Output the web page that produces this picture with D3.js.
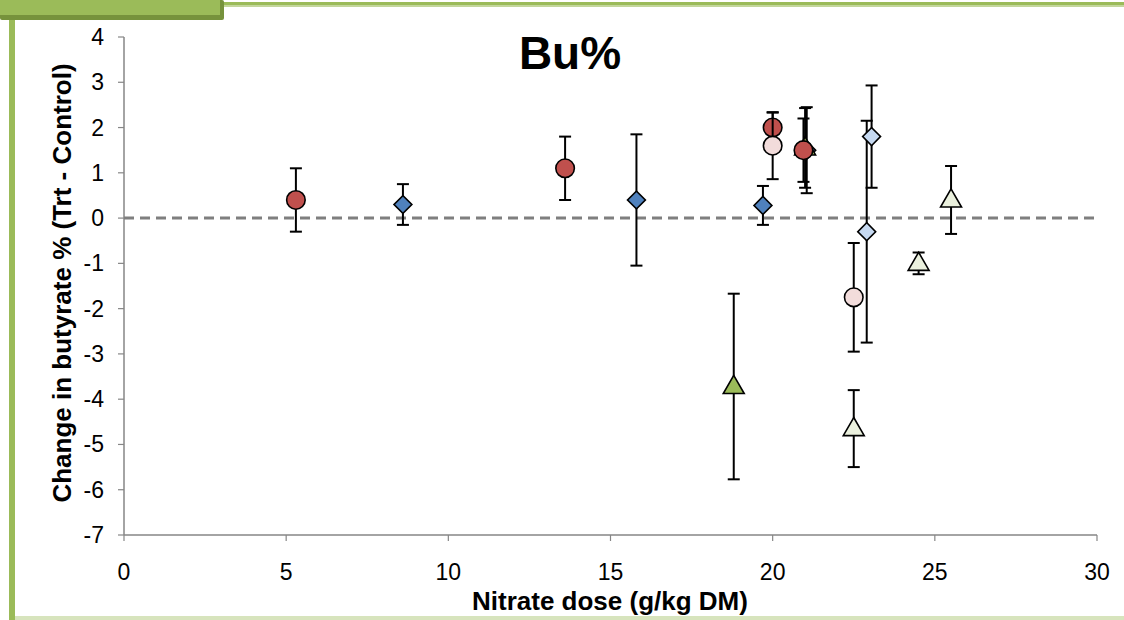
<!DOCTYPE html>
<html><head><meta charset="utf-8">
<script src="https://cdn.jsdelivr.net/npm/d3@7"></script>
<style>body{margin:0;background:#fff;}svg{display:block;font-family:Arial,"Liberation Sans",sans-serif;}</style>
</head><body>
<svg id="c" width="1124" height="620"></svg>
<script>
const chartTitle = "Bu%";
const xLabel = "Nitrate dose (g/kg DM)";
const yLabel = "Change in butyrate % (Trt - Control)";
const xTicks = [0, 5, 10, 15, 20, 25, 30];
const yTicks = [4, 3, 2, 1, 0, -1, -2, -3, -4, -5, -6, -7];

const darkDiamondX = [8.6, 15.8, 19.7, 21.05];
const darkDiamondY = [0.3, 0.4, 0.28, 1.5];
const darkDiamondErr = [0.45, 1.45, 0.43, 0.95];

const lightDiamondX = [23.05, 22.9];
const lightDiamondY = [1.8, -0.3];
const lightDiamondErr = [1.13, 2.45];

const greenTriX = [18.8, 21.0];
const greenTriY = [-3.72, 1.55];
const greenTriErr = [2.05, 0.88];

const lightTriX = [22.5, 24.5, 25.5];
const lightTriY = [-4.65, -1.0, 0.4];
const lightTriErr = [0.85, 0.24, 0.75];

const redX = [5.3, 13.6, 20.0, 20.95];
const redY = [0.4, 1.1, 2.0, 1.5];
const redErr = [0.7, 0.7, 0.33, 0.7];

const pinkX = [20.0, 22.5];
const pinkY = [1.6, -1.75];
const pinkErr = [0.74, 1.2];

const svg = d3.select("#c");
const W = 1124, H = 620;
const x = d3.scaleLinear().domain([0, 30]).range([124, 1097]);
const y = d3.scaleLinear().domain([-7, 4]).range([535, 37]);

// decoration
const g0 = svg.append("g");
g0.append("rect").attr("x", 0).attr("y", 2).attr("width", W).attr("height", 5).attr("fill", "#9BBB59");
g0.append("rect").attr("x", 0).attr("y", 5).attr("width", W).attr("height", 2).attr("fill", "#C3D69B");
g0.append("rect").attr("x", 0).attr("y", 0).attr("width", 224).attr("height", 20).attr("fill", "#76923C").attr("rx", 2);
g0.append("rect").attr("x", 0).attr("y", 0).attr("width", 220).attr("height", 15).attr("fill", "#9BBB59");
g0.append("rect").attr("x", 9).attr("y", 20).attr("width", 6).attr("height", H - 20).attr("fill", "#9BBB59");
g0.append("rect").attr("x", 15).attr("y", 616).attr("width", W - 15).attr("height", 4).attr("fill", "#D7E4BD");

// axes
const axisColor = "#868686";
const ax = svg.append("g");
ax.append("line").attr("x1", x(0)).attr("x2", x(30)).attr("y1", y(-7)).attr("y2", y(-7)).attr("stroke", axisColor).attr("stroke-width", 1.5);
ax.append("line").attr("x1", x(0)).attr("x2", x(0)).attr("y1", y(-7)).attr("y2", y(4)).attr("stroke", axisColor).attr("stroke-width", 1.5);
xTicks.forEach(t => {
  ax.append("line").attr("x1", x(t)).attr("x2", x(t)).attr("y1", y(-7)).attr("y2", y(-7) + 6).attr("stroke", axisColor).attr("stroke-width", 1.2);
  ax.append("text").attr("x", x(t)).attr("y", y(-7) + 45).attr("text-anchor", "middle").attr("font-size", 23).attr("fill", "#000").text(t);
});
yTicks.forEach(t => {
  ax.append("line").attr("x1", x(0) - 6).attr("x2", x(0)).attr("y1", y(t)).attr("y2", y(t)).attr("stroke", axisColor).attr("stroke-width", 1.2);
  ax.append("text").attr("x", 104).attr("y", y(t) + 8).attr("text-anchor", "end").attr("font-size", 23).attr("fill", "#000").text(t);
});

// zero line
svg.append("line").attr("x1", x(0)).attr("x2", x(30)).attr("y1", y(0)).attr("y2", y(0))
  .attr("stroke", "#7F7F7F").attr("stroke-width", 3).attr("stroke-dasharray", "10,6");

// titles
svg.append("text").attr("x", 570).attr("y", 69).attr("text-anchor", "middle").attr("font-size", 46).attr("font-weight", "bold").text(chartTitle);
svg.append("text").attr("x", 610).attr("y", 610).attr("text-anchor", "middle").attr("font-size", 26).attr("font-weight", "bold").text(xLabel);
svg.append("text").attr("transform", "translate(71,283) rotate(-90)").attr("text-anchor", "middle").attr("font-size", 26).attr("font-weight", "bold").text(yLabel);

function series(xs, ys, errs, shape, fill) {
  const data = xs.map((v, i) => ({x: v, y: ys[i], e: errs[i]}));
  const g = svg.append("g");
  const eb = g.selectAll("g.eb").data(data).enter().append("g").attr("stroke", "#000").attr("stroke-width", 2);
  eb.append("line").attr("x1", d => x(d.x)).attr("x2", d => x(d.x)).attr("y1", d => y(d.y + d.e)).attr("y2", d => y(d.y - d.e));
  eb.append("line").attr("x1", d => x(d.x) - 6).attr("x2", d => x(d.x) + 6).attr("y1", d => y(d.y + d.e)).attr("y2", d => y(d.y + d.e));
  eb.append("line").attr("x1", d => x(d.x) - 6).attr("x2", d => x(d.x) + 6).attr("y1", d => y(d.y - d.e)).attr("y2", d => y(d.y - d.e));
  g.selectAll("path.m").data(data).enter().append("path")
    .attr("d", d3.symbol().type(shape.type).size(shape.size))
    .attr("transform", d => `translate(${x(d.x)},${y(d.y) + (shape.dy || 0)})${shape.rot ? " rotate(45)" : ""}`)
    .attr("fill", fill).attr("stroke", "#000").attr("stroke-width", 1.6);
}

series(darkDiamondX, darkDiamondY, darkDiamondErr, {type: d3.symbolSquare, size: 160, rot: true}, "#4F81BD");
series(lightDiamondX, lightDiamondY, lightDiamondErr, {type: d3.symbolSquare, size: 160, rot: true}, "#C6D9F1");
series(greenTriX, greenTriY, greenTriErr, {type: d3.symbolTriangle, size: 190, dy: 1}, "#9BBB59");
series(lightTriX, lightTriY, lightTriErr, {type: d3.symbolTriangle, size: 190, dy: 1}, "#EBF1DE");
series(redX, redY, redErr, {type: d3.symbolCircle, size: 270}, "#C0504D");
series(pinkX, pinkY, pinkErr, {type: d3.symbolCircle, size: 270}, "#F2DCDB");
</script>
</body></html>
